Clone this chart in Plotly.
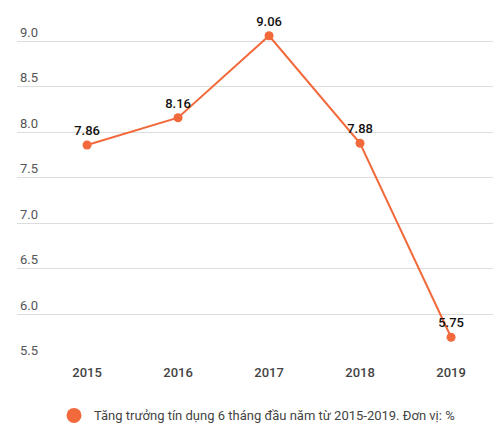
import plotly.graph_objects as go

nam = ['2015', '2016', '2017', '2018', '2019']
tang_truong = [7.86, 8.16, 9.06, 7.88, 5.75]
ten_chuoi = 'Tăng trưởng tín dụng 6 tháng đầu năm từ 2015-2019. Đơn vị: %'

cam = '#f26a3b'

fig = go.Figure()
fig.add_trace(go.Scatter(
    x=nam, y=tang_truong, name=ten_chuoi,
    mode='lines+markers+text',
    line=dict(color=cam, width=2),
    marker=dict(color=cam, size=9),
    text=[f'{v:.2f}' for v in tang_truong],
    textposition='top center',
    textfont=dict(family='Roboto', size=13, color='#111', weight=500),
    cliponaxis=False,
    showlegend=False,
))
# chi de hien thi chu giai (vong tron)
fig.add_trace(go.Scatter(
    x=[None], y=[None], name=ten_chuoi, mode='markers',
    marker=dict(color=cam, size=15), showlegend=True,
))

# trang html co le body 8px, nen bu lai o le trai / tren
fig.update_layout(
    width=501, height=441,
    margin=dict(l=9, r=12, t=15, b=89),
    paper_bgcolor='white', plot_bgcolor='white',
    font=dict(family='Roboto', size=12, color='#555'),
    showlegend=True,
    legend=dict(orientation='h', x=0.5, xanchor='center', y=-0.12, yanchor='top',
                font=dict(size=13, color='#444')),
)
fig.update_xaxes(type='category', range=[-0.77, 4.505], showgrid=False, zeroline=False,
                 showline=False, ticks='', automargin=False, ticklabelstandoff=3,
                 tickfont=dict(size=13, color='#444', weight=500))
fig.update_yaxes(range=[5.5, 9.2], dtick=0.5, tick0=5.5, tickformat='.1f',
                 ticklabelposition='inside top', showgrid=True, gridcolor='#ddd',
                 zeroline=False, showline=False, automargin=False,
                 tickfont=dict(size=13, color='#555'))

fig.write_html('out.html')
